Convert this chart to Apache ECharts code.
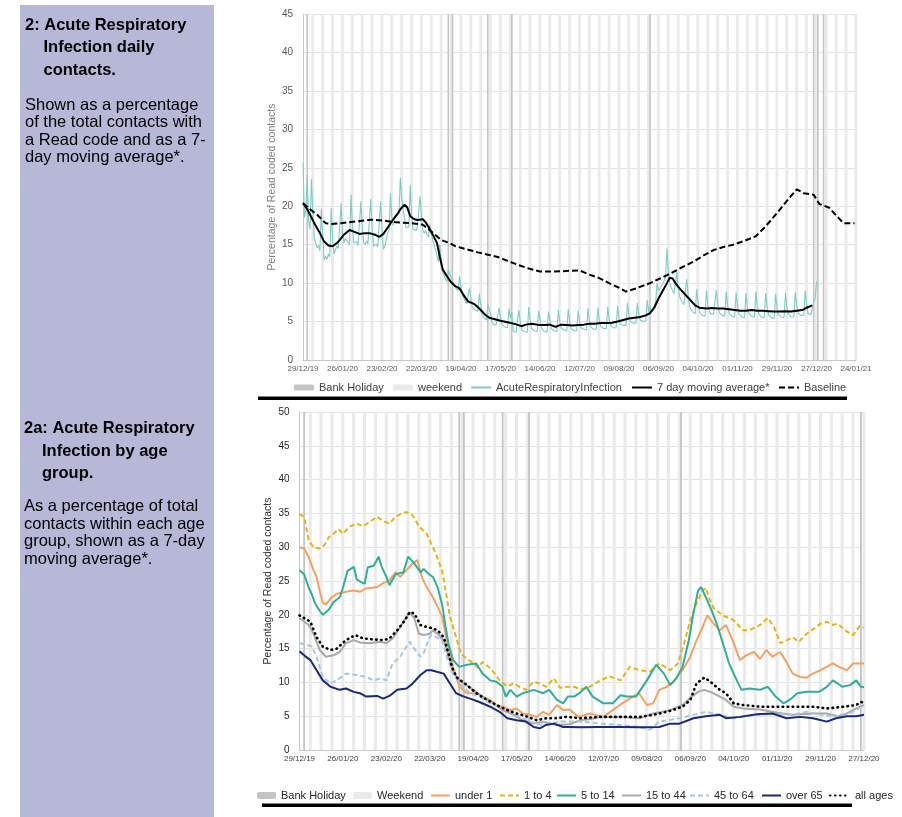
<!DOCTYPE html>
<html><head><meta charset="utf-8">
<script src="https://cdn.jsdelivr.net/npm/echarts@6/dist/echarts.min.js"></script>
<style>html,body{margin:0;padding:0;background:#fff}#c{width:902px;height:817px}</style>
</head><body><div id="c"></div>
<script>
// ---------- tick labels ----------
const topTickLabels = ['29/12/19','26/01/20','23/02/20','22/03/20','19/04/20','17/05/20','14/06/20','12/07/20','09/08/20','06/09/20','04/10/20','01/11/20','29/11/20','27/12/20','24/01/21'];
const bottomTickLabels = ['29/12/19','26/01/20','23/02/20','22/03/20','19/04/20','17/05/20','14/06/20','12/07/20','09/08/20','06/09/20','04/10/20','01/11/20','29/11/20','27/12/20'];

// day index 0 = 29/12/19 (Sunday)
const weekendSaturdays = [6,13,20,27,34,41,48,55,62,69,76,83,90,97,104,111,118,125,132,139,146,153,160,167,174,181,188,195,202,209,216,223,230,237,244,251,258,265,272,279,286,293,300,307,314,321,328,335,342,349,356,363,370,377,384,391];
const bankHolidays = [3,103,106,131,148,246,362,365,369];

// ---------- chart 2: daily ARI % (day 0, then Mon..Sun weeks) ----------
const ariDaily = [25.6,
 18.5,19.5,24.0,18.0,17.0,23.5,19.0,
 15.8,15.2,14.6,14.9,14.2,19.7,16.0,
 13.0,13.5,13.1,13.8,13.4,19.8,15.6,
 13.8,14.3,14.8,14.5,14.3,20.4,16.5,
 15.2,15.8,15.5,15.3,15.0,21.5,17.5,
 15.2,15.0,15.4,14.9,14.9,20.6,17.2,
 15.3,15.0,15.5,15.1,15.0,20.9,17.3,
 14.8,14.6,15.1,14.7,14.5,20.6,17.0,
 14.4,14.8,15.6,16.5,16.8,21.7,18.5,
 17.5,18.5,19.0,19.2,19.0,23.7,21.0,
 19.5,18.5,17.2,17.0,17.3,22.8,19.0,
 17.0,17.2,16.8,17.2,17.0,21.3,18.8,
 16.8,16.5,16.8,16.3,16.0,17.6,16.5,
 15.5,15.0,14.3,13.5,12.8,15.0,12.5,
 11.5,11.0,10.5,10.2,11.7,11.5,10.8,
 11.0,9.8,9.4,9.2,9.0,10.9,9.6,
 8.4,8.0,7.6,7.3,7.2,9.4,8.0,
 6.8,6.6,6.5,6.4,6.3,8.6,7.2,
 5.9,5.5,5.4,5.2,7.2,7.0,6.0,
 4.9,4.6,4.5,4.6,4.4,6.8,5.6,
 4.6,4.4,4.3,4.4,4.2,6.7,5.5,
 6.2,3.7,3.5,3.6,3.5,6.5,5.0,
 3.9,3.8,3.7,3.8,3.6,6.9,5.2,
 4.1,3.9,3.8,3.9,3.7,6.4,5.3,
 4.1,3.9,3.7,3.8,3.6,6.3,5.1,
 4.1,3.9,3.8,4.0,3.7,6.5,5.0,
 4.2,4.0,3.9,4.1,3.8,6.6,5.1,
 4.1,3.9,3.8,4.0,3.8,6.4,5.0,
 4.2,4.1,4.0,4.1,3.9,6.7,5.2,
 4.3,4.1,4.0,4.2,4.0,6.8,5.2,
 4.4,4.2,4.1,4.3,4.1,6.9,5.3,
 4.5,4.3,4.2,4.4,4.2,7.0,5.4,
 4.7,4.6,4.5,4.7,4.5,7.4,5.8,
 5.0,4.9,4.8,5.0,4.8,7.4,6.0,
 5.2,5.1,5.0,5.2,5.1,7.8,6.3,
 7.0,6.2,6.5,7.0,7.6,10.0,9.0,
 9.3,9.6,9.8,10.3,10.8,14.5,11.5,
 10.0,9.4,9.0,8.6,8.4,11.5,9.4,
 8.2,7.8,7.5,7.2,7.0,10.5,8.5,
 7.0,6.6,6.3,6.1,6.0,9.2,7.5,
 6.2,6.0,5.8,5.9,5.7,9.0,7.2,
 6.3,6.0,5.9,6.0,5.8,9.1,7.2,
 6.2,6.0,5.8,5.9,5.7,8.9,7.1,
 6.1,5.9,5.7,5.8,5.6,8.8,7.0,
 6.0,5.8,5.6,5.7,5.5,8.7,6.9,
 6.1,5.9,5.7,5.8,5.6,8.9,7.0,
 6.0,5.8,5.6,5.7,5.5,8.7,6.9,
 5.9,5.7,5.5,5.6,5.4,8.6,6.8,
 5.9,5.7,5.6,5.7,5.5,8.7,6.9,
 6.0,5.8,5.6,5.7,5.6,8.8,7.0,
 6.1,5.9,5.8,6.0,5.8,9.0,7.2,
 6.0,5.8,5.9,6.1,7.5,8.0,10.2];

const topMovingAvg = [[0,20.4],[3,19.6],[5,18.9],[8,17.8],[12,16.5],[15,15.4],[18,14.9],[21,14.8],[24,15.2],[26,15.6],[29,16.3],[33,16.9],[36,16.7],[40,16.4],[44,16.5],[47,16.5],[51,16.3],[54,16.0],[57,16.4],[60,17.2],[64,18.3],[67,19.0],[69,19.6],[72,20.2],[74,19.8],[76,18.7],[79,18.3],[81,18.2],[85,18.3],[87,17.9],[89,17.3],[92,16.3],[95,15.2],[97,13.4],[99,11.8],[102,10.9],[105,10.1],[108,9.6],[111,9.3],[114,8.4],[117,7.6],[120,7.4],[122,7.2],[125,6.7],[129,5.9],[132,5.5],[136,5.3],[140,5.1],[145,4.9],[150,4.7],[155,4.4],[158,4.6],[162,4.7],[166,4.6],[171,4.55],[175,4.6],[179,4.3],[183,4.6],[187,4.55],[191,4.5],[195,4.55],[199,4.6],[203,4.7],[207,4.7],[211,4.8],[215,4.8],[219,4.85],[223,5.0],[227,5.2],[231,5.4],[235,5.5],[239,5.6],[243,5.8],[246,6.1],[249,6.8],[252,8.0],[255,9.0],[258,10.0],[260,10.7],[262,10.6],[264,10.0],[267,9.3],[270,8.7],[274,7.9],[278,7.1],[281,6.8],[286,6.7],[290,6.75],[294,6.7],[298,6.7],[302,6.6],[306,6.5],[310,6.4],[314,6.4],[318,6.5],[322,6.4],[326,6.4],[330,6.35],[334,6.3],[338,6.3],[342,6.35],[346,6.3],[350,6.4],[354,6.5],[357,6.8],[361,7.1]];

const topBaseline = [[0,20.4],[5,19.6],[10,18.9],[16,17.8],[20,17.7],[27,17.8],[37,18.0],[48,18.25],[58,18.1],[66,17.9],[77,17.8],[85,17.6],[91,16.7],[98,15.6],[104,15.2],[108,14.8],[117,14.35],[124,14.0],[131,13.7],[138,13.4],[145,12.9],[152,12.4],[160,11.9],[168,11.5],[178,11.5],[189,11.6],[196,11.65],[203,11.1],[210,10.65],[217,10.0],[224,9.4],[229,8.9],[236,9.3],[246,10.0],[253,10.6],[260,11.2],[268,12.0],[277,12.8],[284,13.6],[291,14.3],[298,14.7],[305,15.0],[313,15.5],[321,16.1],[328,17.4],[336,19.1],[343,20.7],[350,22.2],[355,21.7],[362,21.5],[366,20.3],[373,19.8],[378,18.8],[383,17.8],[391,17.8]];

// ---------- chart 2a: by age group (7-day moving average) ----------
const ageUnder1 = [[0,30.0],[3,29.8],[6,28.5],[9,26.6],[11,25.6],[13,23.6],[15,21.8],[17,21.5],[20,22.4],[24,23.1],[28,23.3],[32,23.5],[35,23.6],[39,23.4],[43,23.9],[47,24.0],[50,24.1],[54,24.7],[58,25.1],[62,26.3],[65,25.6],[69,26.6],[73,27.6],[76,28.1],[79,25.5],[82,24.1],[85,23.0],[88,21.7],[92,19.7],[95,16.2],[99,12.3],[103,9.4],[108,8.4],[114,8.4],[118,7.9],[123,7.4],[127,6.65],[131,6.4],[136,5.9],[140,6.15],[144,5.4],[149,5.2],[153,4.9],[157,5.65],[161,5.2],[166,6.65],[170,5.9],[174,6.0],[180,4.9],[187,5.4],[196,4.9],[202,5.9],[208,6.9],[213,7.6],[219,8.4],[224,6.65],[228,6.9],[232,8.9],[237,9.35],[241,10.1],[247,11.8],[252,13.8],[256,16.2],[260,18.2],[263,19.9],[267,18.7],[271,17.7],[275,18.5],[280,15.8],[284,13.3],[288,14.0],[293,14.5],[297,13.5],[301,14.8],[305,13.8],[310,14.5],[314,13.0],[318,11.3],[323,10.8],[327,10.7],[331,11.3],[336,11.8],[340,12.3],[344,12.8],[348,12.3],[353,11.8],[357,12.8],[364,12.8]];
const age1to4 = [[0,34.9],[3,34.5],[6,31.0],[9,30.0],[13,29.8],[16,30.3],[19,31.5],[22,32.0],[25,32.7],[28,32.0],[32,33.0],[37,33.5],[41,33.1],[45,33.7],[50,34.5],[54,33.9],[58,33.5],[62,34.5],[66,35.0],[69,35.2],[73,34.7],[77,33.1],[82,32.0],[85,30.5],[88,29.0],[92,26.5],[95,22.5],[97,19.7],[101,16.7],[104,14.3],[108,13.5],[112,12.8],[115,12.2],[118,13.0],[122,12.3],[126,11.3],[129,10.3],[134,9.4],[138,9.85],[142,9.35],[146,8.9],[151,10.1],[155,9.85],[159,9.35],[164,10.6],[168,9.2],[172,9.35],[177,9.35],[181,9.0],[185,9.1],[189,9.6],[194,10.3],[200,10.9],[207,10.3],[213,12.3],[219,11.8],[226,11.6],[232,12.8],[239,11.8],[244,12.8],[248,15.8],[252,19.2],[256,21.7],[260,23.6],[262,24.0],[264,22.5],[267,21.0],[273,19.9],[280,19.2],[286,17.7],[290,17.7],[297,18.5],[302,19.5],[306,18.2],[310,15.8],[314,16.2],[318,16.7],[322,16.0],[327,17.2],[332,18.0],[336,18.7],[340,18.95],[344,18.5],[347,18.7],[353,17.5],[357,17.0],[361,18.3],[364,18.1]];
const age5to14 = [[0,26.6],[3,26.0],[6,24.0],[8,23.0],[10,21.7],[13,20.6],[15,20.0],[19,20.8],[22,21.9],[26,22.6],[28,24.0],[31,26.5],[35,27.1],[37,25.2],[40,24.8],[42,24.6],[44,27.0],[48,27.3],[51,28.6],[53,27.1],[56,25.6],[58,24.4],[62,26.0],[67,26.3],[70,28.6],[74,27.6],[78,26.3],[80,26.8],[83,26.1],[86,25.6],[89,24.1],[92,21.5],[94,18.5],[96,15.8],[99,13.3],[103,12.3],[108,12.6],[114,12.8],[118,11.3],[123,10.3],[127,10.1],[131,9.35],[133,7.9],[136,8.9],[140,7.9],[144,8.4],[151,8.9],[157,8.4],[161,8.9],[166,7.4],[170,6.9],[173,7.9],[177,7.9],[181,8.5],[185,9.35],[189,7.9],[196,6.9],[202,6.9],[207,8.1],[211,7.9],[217,7.9],[224,10.3],[230,12.6],[235,11.3],[239,9.6],[243,10.6],[247,12.3],[251,16.2],[254,20.2],[257,23.6],[259,24.1],[262,22.6],[266,20.5],[269,18.7],[273,15.8],[277,12.8],[282,10.3],[285,8.9],[290,9.1],[297,8.9],[302,9.35],[307,7.9],[312,6.9],[316,7.4],[321,8.4],[327,8.6],[335,8.6],[340,9.35],[344,10.3],[350,9.35],[355,9.6],[359,10.3],[362,9.35],[364,9.3]];
const age15to44 = [[0,19.5],[3,19.0],[6,18.5],[9,17.2],[13,14.8],[17,13.8],[22,14.0],[26,14.5],[30,15.8],[35,16.25],[39,15.9],[45,15.8],[52,16.0],[56,15.8],[60,16.5],[65,18.2],[69,19.7],[71,20.4],[74,19.5],[77,17.2],[80,17.0],[84,17.2],[86,17.7],[89,17.2],[93,16.2],[95,14.8],[98,12.3],[101,10.8],[106,9.85],[112,8.9],[118,7.9],[125,6.9],[131,5.9],[138,5.2],[144,4.4],[151,3.9],[157,4.2],[166,3.7],[174,3.8],[181,4.4],[188,4.6],[194,4.9],[207,4.9],[219,4.7],[228,5.4],[239,5.9],[247,6.65],[253,7.9],[257,8.6],[261,8.9],[265,8.6],[271,7.9],[275,7.4],[280,6.4],[286,6.15],[297,6.0],[308,5.5],[318,5.2],[331,5.4],[340,5.4],[347,5.0],[353,5.4],[359,6.15],[364,6.65]];
const age45to64 = [[0,15.8],[4,15.6],[8,15.3],[11,13.8],[15,10.8],[20,9.85],[24,10.3],[30,11.3],[37,11.1],[43,10.8],[48,10.3],[52,10.6],[56,10.3],[60,12.8],[65,13.8],[69,15.3],[71,16.0],[74,15.0],[78,13.8],[80,14.3],[83,16.25],[85,17.0],[88,16.7],[92,16.25],[95,13.8],[99,11.3],[103,9.85],[110,8.4],[116,7.9],[123,6.9],[129,6.4],[136,5.65],[142,4.9],[149,4.2],[153,3.9],[157,3.7],[168,4.2],[181,4.2],[194,3.9],[207,3.7],[219,3.4],[226,3.0],[232,4.2],[245,4.7],[254,5.2],[262,5.65],[271,5.2],[280,4.7],[293,5.2],[305,5.4],[318,5.2],[327,5.65],[336,5.2],[344,4.9],[353,5.2],[359,5.9],[364,6.65]];
const ageOver65 = [[0,14.6],[3,14.0],[7,13.3],[11,11.8],[15,10.3],[20,9.35],[26,8.9],[30,9.1],[35,8.6],[39,8.4],[43,7.9],[50,8.0],[54,7.6],[58,8.0],[63,8.9],[69,9.1],[73,9.85],[78,11.1],[82,11.8],[85,11.8],[88,11.6],[93,11.3],[97,9.85],[101,8.4],[106,7.9],[110,7.6],[116,7.1],[123,6.4],[129,5.65],[134,4.7],[140,4.4],[146,4.2],[151,3.4],[155,3.2],[159,3.7],[164,3.9],[170,3.4],[174,3.4],[181,3.35],[194,3.4],[207,3.4],[220,3.35],[232,3.4],[239,3.9],[245,3.9],[254,4.7],[262,5.0],[271,5.2],[275,4.7],[284,4.9],[295,5.3],[305,5.4],[314,4.7],[323,4.9],[331,4.7],[340,4.2],[346,4.7],[353,5.0],[359,5.0],[364,5.2]];
const ageAll = [[0,19.9],[3,19.5],[7,19.0],[11,16.7],[15,15.3],[20,14.8],[24,15.0],[30,16.25],[36,17.0],[41,16.5],[48,16.35],[54,16.25],[58,16.5],[63,17.7],[68,19.2],[71,20.4],[74,20.2],[78,18.5],[82,18.2],[86,18.0],[89,17.7],[93,16.7],[96,14.3],[99,11.8],[102,10.6],[108,9.6],[114,8.4],[121,7.4],[127,6.65],[134,5.9],[140,5.4],[146,5.0],[153,4.4],[159,4.7],[166,4.7],[172,4.9],[181,4.7],[194,4.9],[207,4.9],[220,4.9],[228,5.2],[237,5.65],[247,6.4],[252,7.4],[256,9.85],[261,10.7],[265,10.1],[271,8.9],[275,8.4],[280,6.9],[286,6.65],[297,6.4],[310,6.4],[323,6.4],[331,6.4],[340,6.15],[351,6.4],[359,6.65],[362,7.1],[364,7.0]];

// ---------- build ----------
const FONT = '"Liberation Sans", Arial, sans-serif';
const chart = echarts.init(document.getElementById('c'), null, {renderer: 'canvas'});

function txt(t, x, y, bold) {
  return {type: 'text', silent: true, style: {text: t, x: x, y: y, fill: '#000',
    font: (bold ? 'bold ' : '') + '16.5px ' + FONT, verticalAlign: 'middle'}};
}
function leg(name, left, top, size, isLine) {
  const o = {data: [name], left: left, top: top, padding: 0, itemWidth: size[0], itemHeight: size[1],
    itemGap: 0, selectedMode: false, textStyle: {fontFamily: FONT, fontSize: 11, color: size[2]}};
  if (isLine) o.itemStyle = {opacity: 0};
  return o;
}
function line(name, data, color, width, type, xi, cap) {
  return {name: name, type: 'line', xAxisIndex: xi, yAxisIndex: xi, data: data, symbol: 'none',
    showSymbol: false, silent: true, z: 3,
    lineStyle: {color: color, width: width, type: type, cap: cap || 'butt'}, itemStyle: {color: color}};
}
function bars(name, data, color, width, xi) {
  return {name: name, type: 'bar', xAxisIndex: xi, yAxisIndex: xi, data: data, barWidth: width,
    barGap: '-100%', silent: true, z: 1, itemStyle: {color: color}};
}

const topMax = 45, botMax = 50;
const TL = '#404040', BL = '#262626';
const option = {
  animation: false,
  textStyle: {fontFamily: FONT},
  graphic: [
    {type: 'rect', silent: true, z: -1, shape: {x: 20, y: 5, width: 194, height: 812}, style: {fill: '#b7b7d7'}},
    txt('2: Acute Respiratory', 25, 25, true),
    txt('Infection daily', 43.5, 47.5, true),
    txt('contacts.', 43.5, 70.5, true),
    txt('Shown as a percentage', 25, 105),
    txt('of the total contacts with', 25, 122.5),
    txt('a Read code and as a 7-', 25, 140),
    txt('day moving average*.', 25, 157.5),
    txt('2a: Acute Respiratory', 24, 428.5, true),
    txt('Infection by age', 42, 451, true),
    txt('group.', 42, 473.5, true),
    txt('As a percentage of total', 24, 506),
    txt('contacts within each age', 24, 524),
    txt('group, shown as a 7-day', 24, 541.5),
    txt('moving average*.', 24, 559),
    {type: 'rect', silent: true, shape: {x: 258, y: 396.5, width: 589, height: 3.5}, style: {fill: '#000'}},
    {type: 'rect', silent: true, shape: {x: 262, y: 803.5, width: 590, height: 3.5}, style: {fill: '#000'}}
  ],
  grid: [
    {left: 303, top: 14, width: 553, height: 346},
    {left: 299.5, top: 412, width: 564.5, height: 338}
  ],
  xAxis: [
    {type: 'value', gridIndex: 0, min: 0, max: 392, interval: 28, splitLine: {show: false},
     axisLine: {lineStyle: {color: '#c8c8c8'}}, axisTick: {show: false},
     axisLabel: {fontSize: 8, color: '#595959', margin: 5, showMinLabel: true, showMaxLabel: true, hideOverlap: false,
       formatter: v => topTickLabels[Math.round(v / 28)] || ''}},
    {type: 'value', gridIndex: 1, min: 0, max: 364, interval: 28, splitLine: {show: false},
     axisLine: {lineStyle: {color: '#c8c8c8'}}, axisTick: {show: false},
     axisLabel: {fontSize: 8, color: '#404040', margin: 5, showMinLabel: true, showMaxLabel: true, hideOverlap: false,
       formatter: v => bottomTickLabels[Math.round(v / 28)] || ''}}
  ],
  yAxis: [
    {type: 'value', gridIndex: 0, min: 0, max: topMax, interval: 5,
     name: 'Percentage of Read coded contacts', nameLocation: 'middle', nameGap: 25, nameMoveOverlap: false,
     nameTextStyle: {fontSize: 10.5, color: '#857f78', fontFamily: FONT},
     axisLine: {show: true, lineStyle: {color: '#c8c8c8'}}, axisTick: {show: false},
     splitLine: {lineStyle: {color: '#e3e3e3', width: 1.2}},
     axisLabel: {fontSize: 10, color: '#595959', margin: 10}},
    {type: 'value', gridIndex: 1, min: 0, max: botMax, interval: 5,
     name: 'Percentage of Read coded contacts', nameLocation: 'middle', nameGap: 26, nameMoveOverlap: false,
     nameTextStyle: {fontSize: 10.5, color: '#333333', fontFamily: FONT},
     axisLine: {show: true, lineStyle: {color: '#c8c8c8'}}, axisTick: {show: false},
     splitLine: {lineStyle: {color: '#e3e3e3', width: 1.2}},
     axisLabel: {fontSize: 10, color: '#262626', margin: 10}}
  ],
  legend: [
    leg('Bank Holiday', 294, 382, [20, 6, TL]),
    leg('weekend', 393, 382, [20, 6, TL]),
    leg('AcuteRespiratoryInfection', 470, 382, [20, 6, TL], true),
    leg('7 day moving average*', 631, 382, [20, 6, TL], true),
    leg('Baseline', 778, 382, [20, 6, TL], true),
    leg('Bank Holiday', 257, 790, [19, 7, BL]),
    leg('Weekend', 353, 790, [19, 7, BL]),
    leg('under 1', 430, 790, [19, 7, BL], true),
    leg('1 to 4', 499, 790, [19, 7, BL], true),
    leg('5 to 14', 556, 790, [19, 7, BL], true),
    leg('15 to 44', 621, 790, [19, 7, BL], true),
    leg('45 to 64', 689, 790, [19, 7, BL], true),
    leg('over 65', 761, 790, [19, 7, BL], true),
    leg('all ages', 829, 790, [20, 7, BL], true)
  ],
  series: [
    bars('weekend', weekendSaturdays.map(d => [d + 0.5, topMax]), '#eaeaea', 2.8, 0),
    bars('Bank Holiday', bankHolidays.map(d => [d, topMax]), '#c4c4c4', 1.6, 0),
    line('AcuteRespiratoryInfection', ariDaily.map((v, i) => [i, v]), '#7fcdc2', 1.1, 'solid', 0),
    line('Baseline', topBaseline, '#000', 2, [6, 3], 0),
    line('7 day moving average*', topMovingAvg, '#000', 2, 'solid', 0),

    bars('Weekend', weekendSaturdays.filter(d => d <= 363).map(d => [d + 0.5, botMax]), '#eaeaea', 3.1, 1),
    bars('Bank Holiday', bankHolidays.filter(d => d <= 364).map(d => [d, botMax]), '#c4c4c4', 1.8, 1),
    line('under 1', ageUnder1, '#f4a161', 2, 'solid', 1),
    line('1 to 4', age1to4, '#e6b412', 2, [5, 3], 1),
    line('5 to 14', age5to14, '#2fae98', 2, 'solid', 1),
    line('15 to 44', age15to44, '#a8a8a8', 2, 'solid', 1),
    line('45 to 64', age45to64, '#a6c6e4', 2, [5, 3], 1),
    line('over 65', ageOver65, '#1e2878', 2, 'solid', 1),
    line('all ages', ageAll, '#000', 2.6, [0.5, 4.5], 1, 'round')
  ]
};
chart.setOption(option);
</script></body></html>
